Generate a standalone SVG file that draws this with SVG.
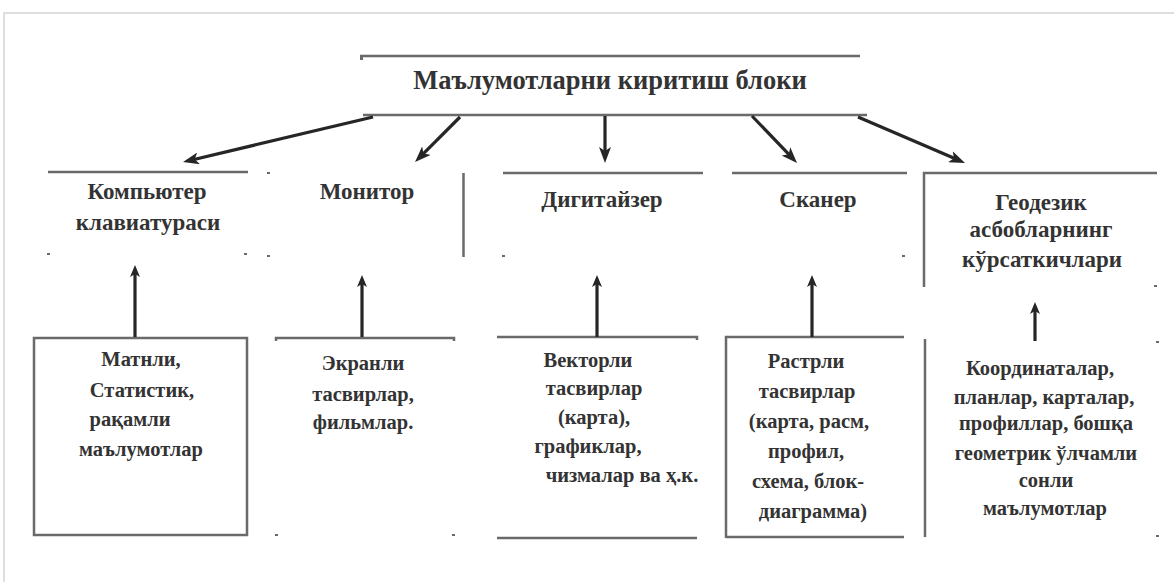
<svg xmlns="http://www.w3.org/2000/svg" width="1174" height="582" viewBox="0 0 1174 582">
<style>
  .frame{stroke:#d4d4d4;stroke-width:1.5;fill:none}
  .bl{stroke:#6a6a6a;stroke-width:2.5;fill:none}
  .mk{fill:#6a6a6a}
  .ar{stroke:#262626;stroke-width:3.2;fill:none}
  .arl{marker-end:url(#ah)}
  .aru{marker-end:url(#ahu)}
  text{font-family:"Liberation Serif","Times New Roman",serif;font-weight:bold;fill:#333;text-anchor:middle}
  .t0{font-size:26.5px}
  .t1{font-size:23px}
  .t2{font-size:20.5px}
</style>
<defs>
  <marker id="ah" viewBox="0 0 16 12" markerWidth="16" markerHeight="12" refX="8" refY="6" orient="auto" markerUnits="userSpaceOnUse">
    <path d="M0,0 L16,6 L0,12 L4,6 z" fill="#262626"/>
  </marker>
  <marker id="ahu" viewBox="0 0 12 10" markerWidth="12" markerHeight="10" refX="6" refY="5" orient="auto" markerUnits="userSpaceOnUse">
    <path d="M0,0 L12,5 L0,10 L3,5 z" fill="#262626"/>
  </marker>
</defs>
<rect width="1174" height="582" fill="#fff"/>
<path class="frame" d="M4,582 L4,13 L1174,13"/>

<g id="title">
  <line class="bl" x1="360" y1="56" x2="860" y2="56"/>
  <rect class="mk" x="360" y="57" width="3" height="3"/>
  <line class="bl" x1="363" y1="115" x2="867" y2="115"/>
  <text class="t0" x="610" y="89">Маълумотларни киритиш блоки</text>
</g>

<g id="keyboard">
  <line class="bl" x1="48" y1="172" x2="248" y2="172"/>
  <rect class="mk" x="47" y="253" width="3" height="2"/>
  <rect class="mk" x="244" y="253" width="3" height="2"/>
  <text class="t1" x="147" y="199">Компьютер</text>
  <text class="t1" x="148" y="230">клавиатураси</text>
</g>

<g id="monitor">
  <rect class="mk" x="267" y="172" width="3" height="2"/>
  <rect class="mk" x="267" y="255" width="3" height="2"/>
  <line class="bl" x1="463.5" y1="173" x2="463.5" y2="257"/>
  <text class="t1" x="367" y="199">Монитор</text>
</g>

<g id="digitizer">
  <line class="bl" x1="503" y1="173" x2="703" y2="173"/>
  <rect class="mk" x="502" y="255" width="3" height="2"/>
  <text class="t1" x="602" y="207">Дигитайзер</text>
</g>

<g id="scanner">
  <line class="bl" x1="732" y1="173" x2="907" y2="173"/>
  <rect class="mk" x="902" y="255" width="3" height="2"/>
  <text class="t1" x="818" y="207">Сканер</text>
</g>

<g id="geodesic">
  <path class="bl" d="M924,287 L924,173 L1157,173"/>
  <rect class="mk" x="1154" y="285" width="3" height="2"/>
  <text class="t1" x="1041" y="210">Геодезик</text>
  <text class="t1" x="1041" y="237">асбобларнинг</text>
  <text class="t1" x="1042" y="267">кўрсаткичлари</text>
</g>

<g id="text-data">
  <rect class="bl" x="34" y="338" width="213" height="197"/>
  <text class="t2" x="141" y="366">Матнли,</text>
  <text class="t2" x="142" y="397">Статистик,</text>
  <text class="t2" x="130" y="426">рақамли</text>
  <text class="t2" x="141" y="456">маълумотлар</text>
</g>

<g id="screen-data">
  <path class="bl" d="M276,341 L276,338 L454,338 L454,341"/>
  <rect class="mk" x="275" y="534" width="3" height="2"/>
  <rect class="mk" x="452" y="534" width="3" height="2"/>
  <text class="t2" x="363" y="370">Экранли</text>
  <text class="t2" x="363" y="401">тасвирлар,</text>
  <text class="t2" x="363" y="429">фильмлар.</text>
</g>

<g id="vector-data">
  <path class="bl" d="M497,337 L697,337 L697,340"/>
  <line class="bl" x1="497" y1="538" x2="697" y2="538"/>
  <text class="t2" x="588" y="367">Векторли</text>
  <text class="t2" x="594" y="395">тасвирлар</text>
  <text class="t2" x="594" y="424">(карта),</text>
  <text class="t2" x="588" y="453">графиклар,</text>
  <text class="t2" x="622" y="482">чизмалар ва ҳ.к.</text>
</g>

<g id="raster-data">
  <path class="bl" d="M726,538 L726,337 L904,337"/>
  <line class="bl" x1="726" y1="537" x2="904" y2="537"/>
  <text class="t2" x="806" y="368">Растрли</text>
  <text class="t2" x="807" y="398">тасвирлар</text>
  <text class="t2" x="809" y="428">(карта, расм,</text>
  <text class="t2" x="806" y="458">профил,</text>
  <text class="t2" x="808" y="488">схема, блок-</text>
  <text class="t2" x="813" y="518">диаграмма)</text>
</g>

<g id="coordinate-data">
  <line class="bl" x1="925" y1="339" x2="925" y2="537"/>
  <rect class="mk" x="1156" y="341" width="3" height="2"/>
  <rect class="mk" x="1156" y="535" width="3" height="2"/>
  <text class="t2" x="1040" y="375">Координаталар,</text>
  <text class="t2" x="1044" y="404">планлар, карталар,</text>
  <text class="t2" x="1046" y="430">профиллар, бошқа</text>
  <text class="t2" x="1046" y="460">геометрик ўлчамли</text>
  <text class="t2" x="1046" y="487">сонли</text>
  <text class="t2" x="1045" y="515">маълумотлар</text>
</g>

<g id="connectors">
  <line class="ar arl" x1="373" y1="117" x2="190.8" y2="160.2"/>
  <line class="ar arl" x1="460" y1="117" x2="420.7" y2="156.3"/>
  <line class="ar arl" x1="605" y1="116" x2="605" y2="155"/>
  <line class="ar arl" x1="752" y1="116" x2="791.5" y2="157.2"/>
  <line class="ar arl" x1="858" y1="117" x2="957.7" y2="159.8"/>
  <line class="ar aru" x1="135" y1="337" x2="135" y2="271"/>
  <line class="ar aru" x1="362" y1="337" x2="362" y2="281"/>
  <line class="ar aru" x1="597" y1="337" x2="597" y2="281"/>
  <line class="ar aru" x1="812" y1="337" x2="812" y2="281"/>
  <line class="ar aru" x1="1035" y1="341" x2="1035" y2="308"/>
</g>
</svg>
